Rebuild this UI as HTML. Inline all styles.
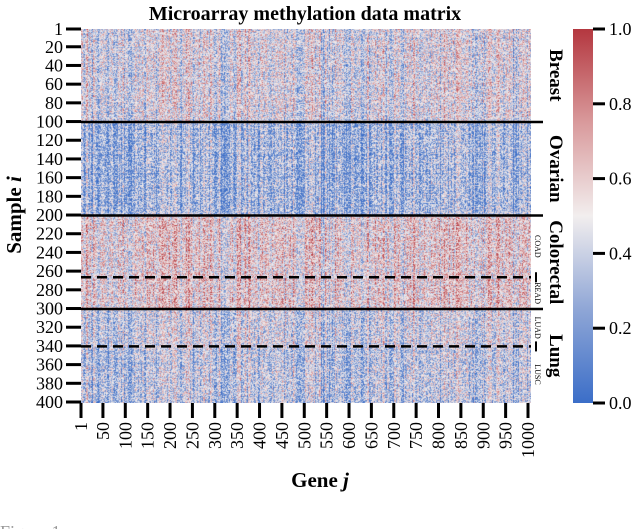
<!DOCTYPE html>
<html><head><meta charset="utf-8"><style>
body{margin:0;background:#fff;width:640px;height:529px;overflow:hidden;font-family:"Liberation Serif",serif}
svg text{font-family:"Liberation Serif",serif}
</style></head><body>
<div style="position:relative;width:640px;height:529px">
<canvas id="hm" width="450" height="374" style="position:absolute;left:81px;top:29px"></canvas>
<svg id="s" width="640" height="529" style="position:absolute;left:0;top:0" font-family="Liberation Serif, serif">
<defs><linearGradient id="cg" x1="0" y1="1" x2="0" y2="0">
<stop offset="0" stop-color="#3b6ec8"/><stop offset="0.25" stop-color="#8fa6d6"/><stop offset="0.5" stop-color="#f2eeee"/><stop offset="0.75" stop-color="#d99a9c"/><stop offset="1" stop-color="#b4373f"/></linearGradient></defs>
<text x="305" y="20" text-anchor="middle" font-size="20" font-weight="bold" font-family="Liberation Serif, serif">Microarray methylation data matrix</text>
<text transform="translate(21,215) rotate(-90)" text-anchor="middle" font-size="21" font-weight="bold" font-family="Liberation Serif, serif">Sample <tspan font-style="italic">i</tspan></text>
<text x="320" y="487" text-anchor="middle" font-size="21" font-weight="bold" font-family="Liberation Serif, serif">Gene <tspan font-style="italic">j</tspan></text>
<rect x="573" y="29" width="20" height="374" fill="url(#cg)"/>
<text x="0" y="538" font-size="18" fill="#999" font-family="Liberation Serif, serif">Figure 1</text>
<g id="ax"></g>
</svg>
</div>
<script>
const groupNames=["Breast","Ovarian","COAD","READ","LUAD","LUSC"];
const groupStart=[1,101,201,267,301,341];
const groupMean=[0.46,0.30,0.55,0.56,0.42,0.38];
const yTicks=[1,20,40,60,80,100,120,140,160,180,200,220,240,260,280,300,320,340,360,380,400];
const xTicks=[1,50,100,150,200,250,300,350,400,450,500,550,600,650,700,750,800,850,900,950,1000];
const cTicks=[0.0,0.2,0.4,0.6,0.8,1.0];
const solidRows=[100,200,300];
const dashedRows=[266,340];
const nRows=400,nCols=1000;
const X0=81,X1=531,Y0=29,Y1=403;
const FF="Liberation Serif, serif";
const ys=r=>Y0+(r-1)/(nRows-1)*(Y1-Y0-1);
const xs=c=>X0+(c-1)/(nCols-1)*(X1-X0-3);
const cy=v=>Y1-v*(Y1-Y0);
function col(v){v=Math.max(0,Math.min(1,v));
 const st=[[0,59,110,200],[0.25,143,166,214],[0.5,242,238,238],[0.75,217,154,156],[1,180,55,63]];
 for(let i=0;i<4;i++){const a=st[i],b=st[i+1];if(v<=b[0]){const t=(v-a[0])/(b[0]-a[0]);return [a[1]+t*(b[1]-a[1]),a[2]+t*(b[2]-a[2]),a[3]+t*(b[3]-a[3])];}}
 return [180,55,63];}
function h(a,b){let x=(a*374761393+b*668265263)>>>0;x=((x^(x>>>13))*1274126177)>>>0;return ((x^(x>>>16))>>>0)/4294967296;}
const cv=document.getElementById('hm'),ctx=cv.getContext('2d');
const W=cv.width,H=cv.height,img=ctx.createImageData(W,H);
const colEff=[];for(let c=0;c<W;c++){colEff.push((h(c,7)-0.5)*0.35+(h(c>>2,9)-0.5)*0.15);}
for(let y=0;y<H;y++){const r=1+y/(H-1)*(nRows-1);let g=0;for(let k=0;k<groupStart.length;k++)if(r>=groupStart[k])g=k;
 const rowEff=(h(y,3)-0.5)*0.1;
 for(let x=0;x<W;x++){const v=groupMean[g]+colEff[x]+rowEff+(h(x*3+1,y*7+2)-0.5)*0.55;
  const c=col(v),i=(y*W+x)*4;img.data[i]=c[0];img.data[i+1]=c[1];img.data[i+2]=c[2];img.data[i+3]=255;}}
ctx.putImageData(img,0,0);
const ax=document.getElementById('ax');const NS='http://www.w3.org/2000/svg';
function el(t,a,txt){const e=document.createElementNS(NS,t);for(const k in a)e.setAttribute(k,a[k]);if(txt!==undefined){e.textContent=txt;e.setAttribute('font-family',FF);}ax.appendChild(e);return e;}
yTicks.forEach(v=>{const y=ys(v);
 const l=el('line',{x1:66,x2:81,y1:y,y2:y,stroke:'#000','stroke-width':3});
 
 
 const t=el('text',{x:63,y:y+6,'text-anchor':'end','font-size':18},v);
 
 });
xTicks.forEach(v=>{const x=xs(v);
 const l=el('line',{x1:x,x2:x,y1:403,y2:418,stroke:'#000','stroke-width':3});
 
 
 const t=el('text',{transform:`translate(${x+6},422) rotate(-90)`,'text-anchor':'end','font-size':18},v);
 
 });
solidRows.forEach(r=>{const y=ys(r)+0.5;
 const l=el('line',{x1:X0,x2:543,y1:y,y2:y,stroke:'#000','stroke-width':2.5});
 
 });
dashedRows.forEach(r=>{const y=ys(r)+0.5;
 const l=el('line',{x1:X0,x2:531,y1:y,y2:y,stroke:'#000','stroke-width':2.5,'stroke-dasharray':'10,6'});
 
 
 const m=el('line',{x1:536,x2:536,y1:y-5,y2:y+5,stroke:'#000','stroke-width':2});
 
 });
[["Breast",1,100],["Ovarian",101,200],["Colorectal",201,300],["Lung",301,400]].forEach(g=>{const y=(ys(g[1])+ys(g[2]))/2;
 const t=el('text',{transform:`translate(550,${y}) rotate(90)`,'text-anchor':'middle','font-size':19,'font-weight':'bold'},g[0]);
 
 });
groupNames.slice(2).forEach((n,i)=>{const s=groupStart[i+2],e=(i+3<groupStart.length?groupStart[i+3]-1:400);const y=(ys(s)+ys(e))/2;
 const t=el('text',{transform:`translate(535,${y}) rotate(90)`,'text-anchor':'middle','font-size':8},n);
 
 });
cTicks.forEach(v=>{const y=cy(v);
 const l=el('line',{x1:593,x2:605,y1:y,y2:y,stroke:'#000','stroke-width':3});
 
 
 const t=el('text',{x:609,y:y+6,'font-size':18},v.toFixed(1));
 
 });
</script>
</body></html>
